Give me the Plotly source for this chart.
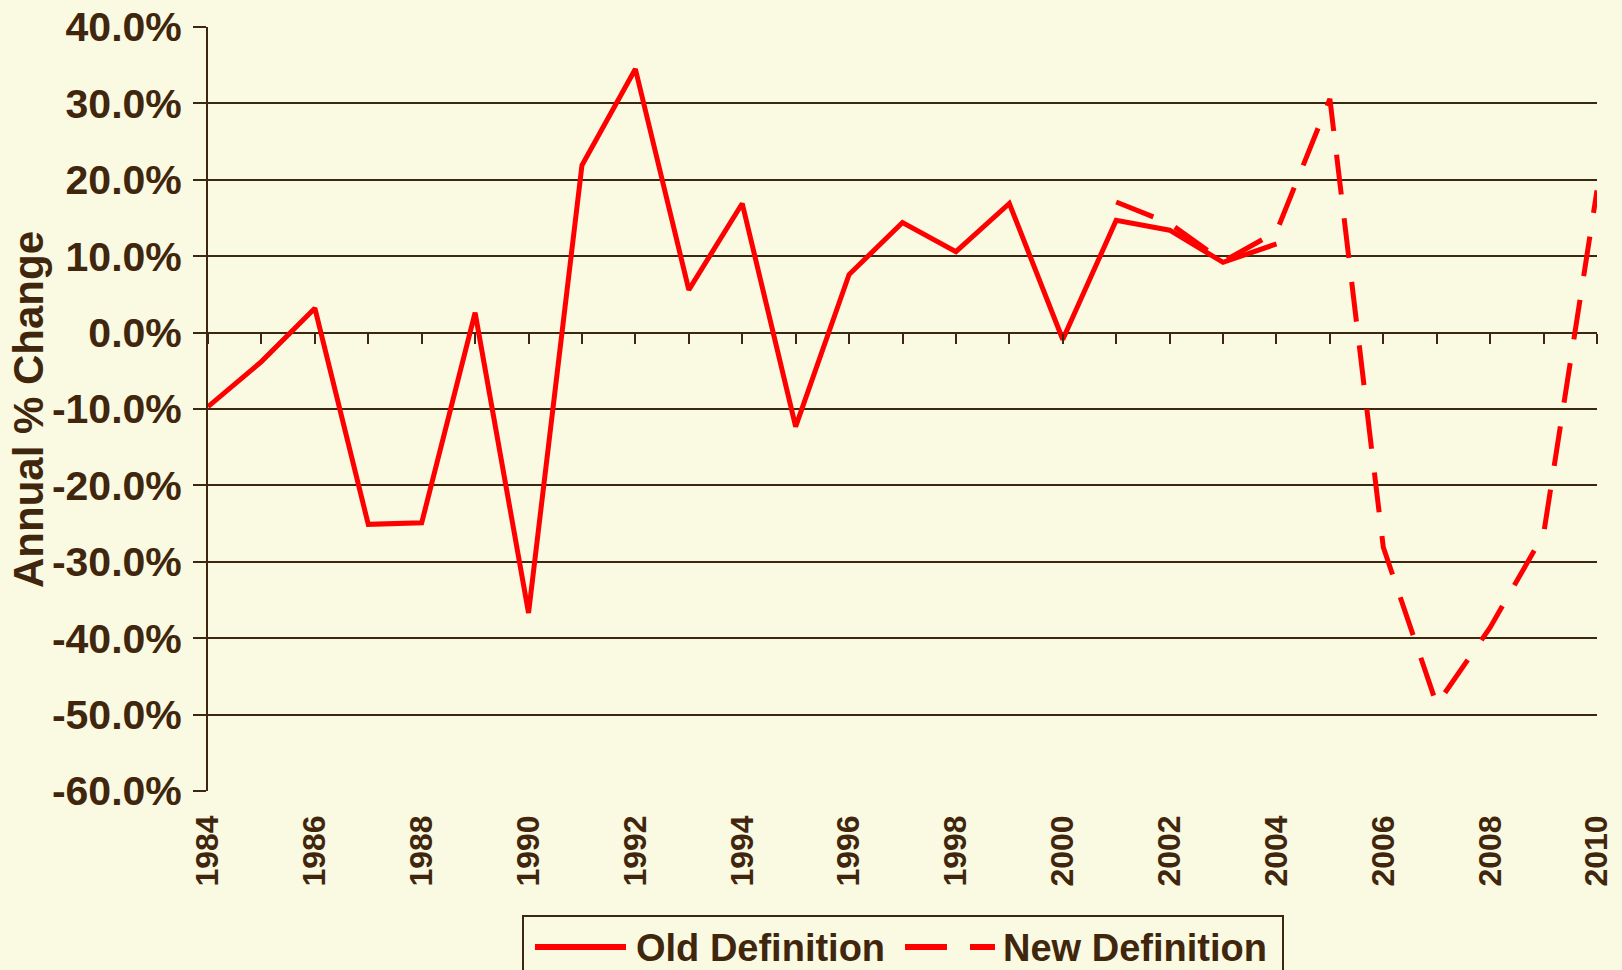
import plotly.graph_objects as go

# ---- data (annual % change) ----
old_years = list(range(1984, 2005))
old_values = [-9.7, -3.8, 3.2, -25.1, -24.9, 2.6, -36.7, 21.9, 34.5, 5.6,
              16.9, -12.3, 7.6, 14.4, 10.6, 16.9, -0.9, 14.7, 13.4, 9.2, 11.6]

new_years = list(range(2001, 2011))
new_values = [17.1, 14.3, 9.3, 13.2, 30.6, -28.1, -48.7, -38.6, -26.4, 18.6]

x_tick_vals = list(range(1984, 2011, 2))
x_tick_text = [str(v) for v in x_tick_vals]
y_tick_vals = list(range(-60, 41, 10))
y_tick_text = [f"{v:.1f}%" for v in y_tick_vals]

series_names = ["Old Definition", "New Definition"]
y_title = "Annual % Change"

BG = "#FAF9E2"
TXT = "#40260C"
LINE = "#3C2810"
RED = "#FF0000"
FONT = "Liberation Sans, Arial, sans-serif"

W, H = 1622, 970
ML, MR, MT, MB = 208, 25, 27, 179
PW, PH = W - ML - MR, H - MT - MB


def px(x):
    return (x - ML) / PW


def py(y):
    return (H - MB - y) / PH


fig = go.Figure()
fig.add_trace(go.Scatter(x=old_years, y=old_values, mode="lines", name=series_names[0],
                         line=dict(color=RED, width=5), xaxis="x", yaxis="y"))
fig.add_trace(go.Scatter(x=new_years, y=new_values, mode="lines", name=series_names[1],
                         line=dict(color=RED, width=5, dash="40px,24px"), xaxis="x2", yaxis="y"))

xr = [min(old_years), max(new_years)]

# legend drawn as a boxed key below the axis (matches the original's long line samples)
legend_shapes = [
    dict(type="rect", xref="paper", yref="paper", x0=px(523), x1=px(1283), y0=py(995), y1=py(916),
         line=dict(color=LINE, width=2), fillcolor=BG, layer="above"),
    dict(type="line", xref="paper", yref="paper", x0=px(535), x1=px(626), y0=py(947), y1=py(947),
         line=dict(color=RED, width=6)),
    dict(type="line", xref="paper", yref="paper", x0=px(905), x1=px(995), y0=py(947), y1=py(947),
         line=dict(color=RED, width=6, dash="42px,23px")),
]
legend_texts = [
    dict(text=series_names[0], xref="paper", yref="paper", x=px(634), y=py(948),
         xanchor="left", yanchor="middle", showarrow=False,
         font=dict(size=38, family=FONT, color=TXT, weight="bold")),
    dict(text=series_names[1], xref="paper", yref="paper", x=px(1001), y=py(948),
         xanchor="left", yanchor="middle", showarrow=False,
         font=dict(size=38, family=FONT, color=TXT, weight="bold")),
    dict(text=y_title, xref="paper", yref="paper", x=px(28), y=0.5,
         xanchor="center", yanchor="middle", textangle=-90, showarrow=False,
         font=dict(size=42, family=FONT, color=TXT, weight="bold")),
]

fig.update_layout(
    width=W, height=H,
    paper_bgcolor=BG, plot_bgcolor=BG,
    margin=dict(l=ML, r=MR, t=MT, b=MB, autoexpand=False),
    font=dict(family=FONT, color=TXT, weight="bold"),
    showlegend=False,
    shapes=legend_shapes,
    annotations=legend_texts,
    xaxis=dict(range=xr, tickmode="array", tickvals=x_tick_vals, ticktext=x_tick_text,
               tickangle=-90, tickfont=dict(size=32, family=FONT, color=TXT, weight="bold"),
               showgrid=False, zeroline=False, showline=False, ticks="",
               ticklabelstandoff=17, fixedrange=True),
    xaxis2=dict(range=xr, overlaying="x", anchor="free", position=0.6, side="bottom",
                tickmode="linear", tick0=1984, dtick=1, ticks="outside", ticklen=10,
                tickwidth=2, tickcolor=LINE, showticklabels=False, showgrid=False,
                zeroline=False, showline=False),
    yaxis=dict(range=[-60, 40], tickmode="array", tickvals=y_tick_vals, ticktext=y_tick_text,
               tickfont=dict(size=41, family=FONT, color=TXT, weight="bold"),
               showgrid=True, gridcolor=LINE, gridwidth=2,
               zeroline=True, zerolinecolor=LINE, zerolinewidth=2,
               showline=True, linecolor=LINE, linewidth=2,
               ticks="outside", ticklen=13, tickwidth=2, tickcolor=LINE,
               ticklabelstandoff=3),
)

fig.write_html("out.html",
               config={"displayModeBar": False},
               post_script="document.body.style.margin='0';"
                           "document.body.style.background='#FAF9E2';")
